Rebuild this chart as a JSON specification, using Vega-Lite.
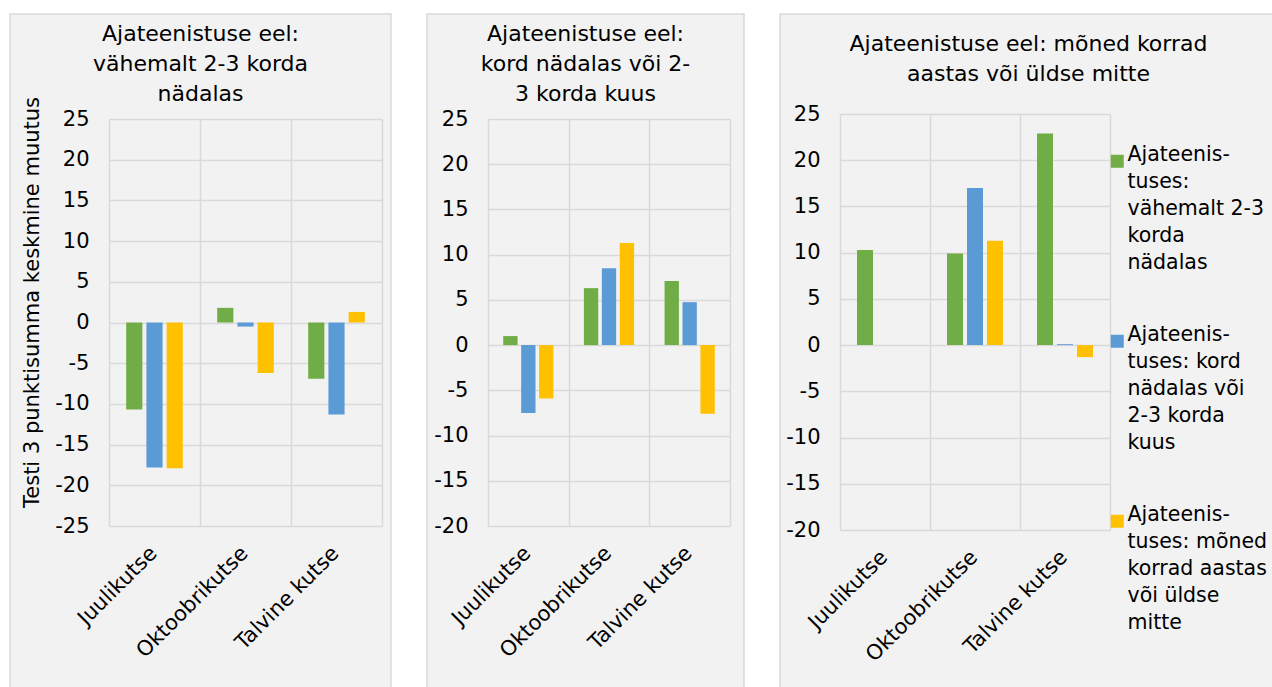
{
  "$schema": "https://vega.github.io/schema/vega-lite/v6.json",
  "background": "white",
  "padding": {"left": 9, "top": 13, "right": 0, "bottom": 0},
  "spacing": 34,
  "datasets": {
    "bars": [
      {"panel": "A", "kutse": "Juulikutse", "series": "Ajateenistuses: vähemalt 2-3 korda nädalas", "value": -10.7},
      {"panel": "A", "kutse": "Juulikutse", "series": "Ajateenistuses: kord nädalas või 2-3 korda kuus", "value": -17.8},
      {"panel": "A", "kutse": "Juulikutse", "series": "Ajateenistuses: mõned korrad aastas või üldse mitte", "value": -17.9},
      {"panel": "A", "kutse": "Oktoobrikutse", "series": "Ajateenistuses: vähemalt 2-3 korda nädalas", "value": 1.8},
      {"panel": "A", "kutse": "Oktoobrikutse", "series": "Ajateenistuses: kord nädalas või 2-3 korda kuus", "value": -0.5},
      {"panel": "A", "kutse": "Oktoobrikutse", "series": "Ajateenistuses: mõned korrad aastas või üldse mitte", "value": -6.2},
      {"panel": "A", "kutse": "Talvine kutse", "series": "Ajateenistuses: vähemalt 2-3 korda nädalas", "value": -6.9},
      {"panel": "A", "kutse": "Talvine kutse", "series": "Ajateenistuses: kord nädalas või 2-3 korda kuus", "value": -11.3},
      {"panel": "A", "kutse": "Talvine kutse", "series": "Ajateenistuses: mõned korrad aastas või üldse mitte", "value": 1.3},
      {"panel": "B", "kutse": "Juulikutse", "series": "Ajateenistuses: vähemalt 2-3 korda nädalas", "value": 1.0},
      {"panel": "B", "kutse": "Juulikutse", "series": "Ajateenistuses: kord nädalas või 2-3 korda kuus", "value": -7.5},
      {"panel": "B", "kutse": "Juulikutse", "series": "Ajateenistuses: mõned korrad aastas või üldse mitte", "value": -5.9},
      {"panel": "B", "kutse": "Oktoobrikutse", "series": "Ajateenistuses: vähemalt 2-3 korda nädalas", "value": 6.3},
      {"panel": "B", "kutse": "Oktoobrikutse", "series": "Ajateenistuses: kord nädalas või 2-3 korda kuus", "value": 8.5},
      {"panel": "B", "kutse": "Oktoobrikutse", "series": "Ajateenistuses: mõned korrad aastas või üldse mitte", "value": 11.3},
      {"panel": "B", "kutse": "Talvine kutse", "series": "Ajateenistuses: vähemalt 2-3 korda nädalas", "value": 7.1},
      {"panel": "B", "kutse": "Talvine kutse", "series": "Ajateenistuses: kord nädalas või 2-3 korda kuus", "value": 4.75},
      {"panel": "B", "kutse": "Talvine kutse", "series": "Ajateenistuses: mõned korrad aastas või üldse mitte", "value": -7.6},
      {"panel": "C", "kutse": "Juulikutse", "series": "Ajateenistuses: vähemalt 2-3 korda nädalas", "value": 10.3},
      {"panel": "C", "kutse": "Oktoobrikutse", "series": "Ajateenistuses: vähemalt 2-3 korda nädalas", "value": 9.9},
      {"panel": "C", "kutse": "Oktoobrikutse", "series": "Ajateenistuses: kord nädalas või 2-3 korda kuus", "value": 17.0},
      {"panel": "C", "kutse": "Oktoobrikutse", "series": "Ajateenistuses: mõned korrad aastas või üldse mitte", "value": 11.3},
      {"panel": "C", "kutse": "Talvine kutse", "series": "Ajateenistuses: vähemalt 2-3 korda nädalas", "value": 22.9},
      {"panel": "C", "kutse": "Talvine kutse", "series": "Ajateenistuses: kord nädalas või 2-3 korda kuus", "value": 0.1},
      {"panel": "C", "kutse": "Talvine kutse", "series": "Ajateenistuses: mõned korrad aastas või üldse mitte", "value": -1.3}
    ]
  },
  "resolve": {
    "scale": {"x": "independent", "y": "independent", "xOffset": "independent", "color": "shared"},
    "legend": {"color": "independent"}
  },
  "hconcat": [
    {
      "width": 381, "height": 674,
      "title": {"text": ["Ajateenistuse eel:", "vähemalt 2-3 korda", "nädalas"], "offset": -92},
      "data": {"name": "bars"},
      "transform": [{"filter": "datum.panel === 'A'"}],
      "mark": {"type": "bar"},
      "encoding": {
        "x": {"field": "kutse", "type": "nominal", "sort": ["Juulikutse", "Oktoobrikutse", "Talvine kutse"],
              "scale": {"paddingInner": 0, "paddingOuter": 0, "range": [99, 372]},
              "axis": {"title": null, "orient": "top", "labelAngle": -45, "labelAlign": "right", "labelBaseline": "top",
                       "grid": true, "tickBand": "extent", "tickSize": 0, "labelPadding": -16, "labelOffset": -9, "offset": -512}},
        "xOffset": {"field": "series", "type": "nominal",
                    "sort": ["Ajateenistuses: vähemalt 2-3 korda nädalas", "Ajateenistuses: kord nädalas või 2-3 korda kuus", "Ajateenistuses: mõned korrad aastas või üldse mitte"],
                    "scale": {"paddingInner": 0.2, "paddingOuter": 0.85}},
        "y": {"field": "value", "type": "quantitative", "scale": {"domain": [-25, 25], "nice": false, "zero": false, "range": [512, 105]},
              "axis": {"title": "Testi 3 punktisumma keskmine muutus", "values": [-25, -20, -15, -10, -5, 0, 5, 10, 15, 20, 25],
                       "labelExpr": "'' + datum.value", "labelPadding": 20, "titlePadding": 12, "titleY": 288, "offset": -99}},
        "color": {"field": "series", "type": "nominal",
                  "scale": {"domain": ["Ajateenistuses: vähemalt 2-3 korda nädalas", "Ajateenistuses: kord nädalas või 2-3 korda kuus", "Ajateenistuses: mõned korrad aastas või üldse mitte"],
                            "range": ["#70ad47", "#5b9bd5", "#ffc000"]},
                  "legend": null}
      }
    },
    {
      "width": 317, "height": 674,
      "title": {"text": ["Ajateenistuse eel:", "kord nädalas või 2-", "3 korda kuus"], "offset": -92},
      "data": {"name": "bars"},
      "transform": [{"filter": "datum.panel === 'B'"}],
      "mark": {"type": "bar"},
      "encoding": {
        "x": {"field": "kutse", "type": "nominal", "sort": ["Juulikutse", "Oktoobrikutse", "Talvine kutse"],
              "scale": {"paddingInner": 0, "paddingOuter": 0, "range": [61, 303]},
              "axis": {"title": null, "orient": "top", "labelAngle": -45, "labelAlign": "right", "labelBaseline": "top",
                       "grid": true, "tickBand": "extent", "tickSize": 0, "labelPadding": -16, "labelOffset": -9, "offset": -512}},
        "xOffset": {"field": "series", "type": "nominal",
                    "sort": ["Ajateenistuses: vähemalt 2-3 korda nädalas", "Ajateenistuses: kord nädalas või 2-3 korda kuus", "Ajateenistuses: mõned korrad aastas või üldse mitte"],
                    "scale": {"paddingInner": 0.2, "paddingOuter": 0.85}},
        "y": {"field": "value", "type": "quantitative", "scale": {"domain": [-20, 25], "nice": false, "zero": false, "range": [512, 105]},
              "axis": {"title": null, "values": [-20, -15, -10, -5, 0, 5, 10, 15, 20, 25],
                       "labelExpr": "'' + datum.value", "labelPadding": 20, "offset": -61}},
        "color": {"field": "series", "type": "nominal", "legend": null}
      }
    },
    {
      "width": 497, "height": 674,
      "title": {"text": ["Ajateenistuse eel: mõned korrad", "aastas või üldse mitte"], "offset": -72},
      "data": {"name": "bars"},
      "transform": [{"filter": "datum.panel === 'C'"}],
      "mark": {"type": "bar"},
      "encoding": {
        "x": {"field": "kutse", "type": "nominal", "sort": ["Juulikutse", "Oktoobrikutse", "Talvine kutse"],
              "scale": {"paddingInner": 0, "paddingOuter": 0, "range": [60, 330]},
              "axis": {"title": null, "orient": "top", "labelAngle": -45, "labelAlign": "right", "labelBaseline": "top",
                       "grid": true, "tickBand": "extent", "tickSize": 0, "labelPadding": -16, "labelOffset": -9, "offset": -516}},
        "xOffset": {"field": "series", "type": "nominal",
                    "sort": ["Ajateenistuses: vähemalt 2-3 korda nädalas", "Ajateenistuses: kord nädalas või 2-3 korda kuus", "Ajateenistuses: mõned korrad aastas või üldse mitte"],
                    "scale": {"paddingInner": 0.2, "paddingOuter": 0.85}},
        "y": {"field": "value", "type": "quantitative", "scale": {"domain": [-20, 25], "nice": false, "zero": false, "range": [516, 100]},
              "axis": {"title": null, "values": [-20, -15, -10, -5, 0, 5, 10, 15, 20, 25],
                       "labelExpr": "'' + datum.value", "labelPadding": 20, "offset": -60}},
        "color": {"field": "series", "type": "nominal",
                  "legend": {"title": null, "orient": "none", "legendX": 327, "legendY": 137,
                             "symbolType": "square", "symbolSize": 169, "symbolStrokeWidth": 0,
                             "labelFontSize": 20.5, "labelLimit": 0, "labelBaseline": "alphabetic", "labelOffset": 0,
                             "rowPadding": 51,
                             "encode": {"labels": {"update": {"lineHeight": {"value": 27}}}},
                             "labelExpr": "datum.label == 'Ajateenistuses: vähemalt 2-3 korda nädalas' ? ['Ajateenis-', 'tuses:', 'vähemalt 2-3', 'korda', 'nädalas'] : datum.label == 'Ajateenistuses: kord nädalas või 2-3 korda kuus' ? ['Ajateenis-', 'tuses: kord', 'nädalas või', '2-3 korda', 'kuus'] : ['Ajateenis-', 'tuses: mõned', 'korrad aastas', 'või üldse', 'mitte']"}}
      }
    }
  ],
  "config": {
    "font": "DejaVu Sans",
    "view": {"fill": "#f2f2f2", "stroke": "#d9d9d9", "strokeWidth": 1.5},
    "axis": {"gridColor": "#d9d9d9", "gridWidth": 1.5, "labelColor": "#000000", "labelFontSize": 21,
             "titleFontSize": 21, "titleFontWeight": "normal", "titleColor": "#000000",
             "domain": false, "ticks": false},
    "legend": {"labelColor": "#000000", "labelFont": "DejaVu Sans"},
    "title": {"fontSize": 22, "fontWeight": "normal", "color": "#000000", "lineHeight": 30, "font": "DejaVu Sans",
              "frame": "group", "anchor": "middle", "baseline": "alphabetic"}
  }
}
